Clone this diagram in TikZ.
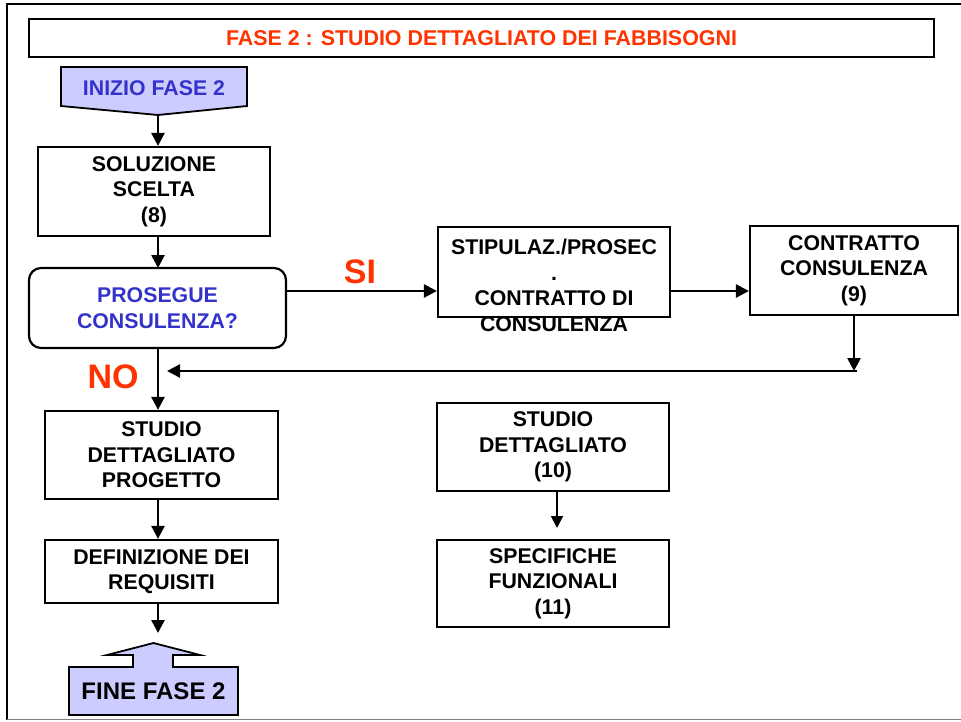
\documentclass[tikz,border=0pt]{standalone}
\usepackage{fontspec}
\setmainfont{Liberation Sans}
\usetikzlibrary{arrows.meta}
\definecolor{redor}{RGB}{255,51,0}
\definecolor{bluet}{RGB}{51,51,204}
\definecolor{lav}{RGB}{204,204,255}
\newcommand\bodyf{\bfseries\fontsize{21.3}{25.5}\selectfont}
\begin{document}
\begin{tikzpicture}[x=1pt,y=-1pt,
  box/.style={draw,line width=2.2pt,inner sep=0pt,align=center,font=\bodyf,text=black},
  txt/.style={inner sep=0pt,align=center,font=\bodyf},
  arr/.style={line width=2.6pt,-{Triangle[length=13pt,width=13pt]}},
  thinarr/.style={line width=1.8pt,-{Triangle[length=12pt,width=12pt]}},
  big/.style={inner sep=0pt,font=\bfseries\fontsize{34}{40}\selectfont,text=redor}]
\useasboundingbox (0,0) rectangle (961,721);
% outer frame
\draw[line width=2.2pt] (961,4) -- (7,4) -- (7,720);
\draw[line width=1.5pt,gray] (7,719.5) -- (961,719.5);
% title
\node[box,minimum width=905pt,minimum height=38pt,font=\bfseries\fontsize{21.4}{24}\selectfont,text=redor] (title) at (481.5,38) {FASE 2 : STUDIO DETTAGLIATO DEI FABBISOGNI};
% start shape
\draw[line width=1.8pt,fill=lav] (61,67) -- (247,67) -- (247,106) -- (158,115) -- (61,106) -- cycle;
\coordinate (initip) at (158,115);
\node[txt,text=bluet] (ini) at (154,88) {INIZIO FASE 2};
% boxes
\node[box,minimum width=232pt,minimum height=89pt] (sol) at (154,191.5) {SOLUZIONE\\SCELTA\\(8)};
\node[box,rounded corners=12pt,minimum width=257pt,minimum height=80pt,text=bluet] (pros) at (157.5,308) {PROSEGUE\\CONSULENZA?};
\node[box,minimum width=232pt,minimum height=90pt] (stip) at (554,272) {};
\node[txt] (stipt) at (554,285.5) {STIPULAZ./PROSEC\\.\\CONTRATTO DI\\CONSULENZA};
\node[box,minimum width=208pt,minimum height=89pt] (c9) at (854,270.5) {CONTRATTO\\CONSULENZA\\(9)};
\node[box,minimum width=233pt,minimum height=88pt] (sdp) at (161.5,455) {STUDIO\\DETTAGLIATO\\PROGETTO};
\node[box,minimum width=233pt,minimum height=63pt] (def) at (161.5,571.5) {DEFINIZIONE DEI\\REQUISITI};
\node[box,minimum width=232pt,minimum height=88pt] (sd10) at (553,447) {STUDIO\\DETTAGLIATO\\(10)};
\node[box,minimum width=232pt,minimum height=87pt] (spec) at (553,583.5) {SPECIFICHE\\FUNZIONALI\\(11)};
% end shape
\draw[line width=1.8pt,fill=lav] (69,715) -- (69,667) -- (133,667) -- (133,655) -- (107,655) -- (153.5,643) -- (200,655) -- (173,655) -- (173,667) -- (238,667) -- (238,715) -- cycle;
\node[txt,font=\bfseries\fontsize{24}{28}\selectfont] (fine) at (153.5,691) {FINE FASE 2};
% labels
\node[big] (si) at (360,272) {SI};
\node[big] (no) at (113,377) {NO};
% connectors
\draw[arr] (initip) -- (initip |- sol.north);
\draw[arr] (158,236) -- (158,268);
\draw[arr] (pros.east |- 0,291) -- (stip.west |- 0,291);
\draw[arr] (stip.east |- 0,291) -- (c9.west |- 0,291);
\coordinate (ret) at (854,371);
\coordinate (retend) at (167,371);
\draw[arr] (c9.south -| ret) -- (ret);
\draw[arr] (857,371) -- (retend);
\draw[arr] (pros.south -| 158,0) -- (sdp.north -| 158,0);
\draw[arr] (sdp.south -| 158,0) -- (def.north -| 158,0);
\coordinate (defend) at (158,633);
\draw[arr] (def.south -| defend) -- (defend);
\coordinate (tenend) at (557,528);
\draw[thinarr] (sd10.south -| tenend) -- (tenend);
\end{tikzpicture}
\end{document}
